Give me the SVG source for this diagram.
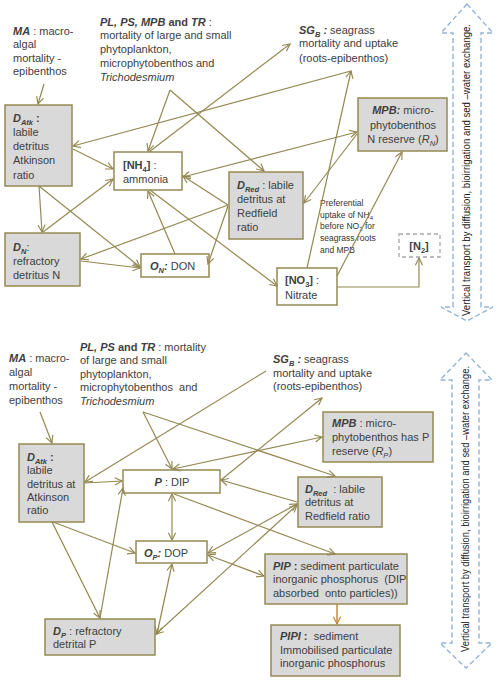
<svg xmlns="http://www.w3.org/2000/svg" width="500" height="681" viewBox="0 0 500 681">
<defs>
<style>
text{font-family:"Liberation Sans",Arial,sans-serif;font-size:11px;fill:#404040}
.bi{font-weight:bold;font-style:italic}
.bo{font-weight:bold}
.it{font-style:italic}
.sm{font-size:7.5px}
.box{stroke:#948a54;stroke-width:1.5}
.g{fill:#d9d9d9}
.w{fill:#ffffff}
.c{stroke:#938953;stroke-width:1.2;fill:none}
.pref{font-size:8.5px;fill:#333333}
.vt{font-size:10px;fill:#1a1a1a}
.va{fill:none;stroke:#95b3d7;stroke-width:1.4;stroke-dasharray:5 3}
</style>
<marker id="a" viewBox="0 0 10 10" refX="9" refY="5" markerWidth="9" markerHeight="9" markerUnits="userSpaceOnUse" orient="auto-start-reverse">
<path d="M1,1 L9,5 L1,9" fill="none" stroke="#938953" stroke-width="1.3"/>
</marker>
<marker id="ao" viewBox="0 0 10 10" refX="9" refY="5" markerWidth="9" markerHeight="9" markerUnits="userSpaceOnUse" orient="auto">
<path d="M1,1 L9,5 L1,9" fill="none" stroke="#c0862a" stroke-width="1.3"/>
</marker>
</defs>
<rect width="500" height="681" fill="#ffffff"/>

<!-- Top panel -->
<g id="top-MA">
<text x="13" y="35"><tspan class="bi">MA</tspan> : macro-</text>
<text x="13" y="48">algal</text>
<text x="13" y="62">mortality -</text>
<text x="13" y="75">epibenthos</text>
</g>
<g id="top-PL">
<text x="100" y="26"><tspan class="bi">PL, PS, MPB</tspan><tspan class="bo"> and </tspan><tspan class="bi">TR</tspan> :</text>
<text x="100" y="39">mortality of large and small</text>
<text x="100" y="53">phytoplankton,</text>
<text x="100" y="67">microphytobenthos and</text>
<text x="100" y="81" class="it">Trichodesmium</text>
</g>
<g id="top-SGB">
<text x="299" y="34"><tspan class="bi">SG</tspan><tspan class="bi sm" dy="2.5">B</tspan><tspan class="bi" dy="-2.5"> :</tspan> seagrass</text>
<text x="299" y="47">mortality and uptake</text>
<text x="299" y="62">(roots-epibenthos)</text>
</g>
<g id="top-DAtk">
<rect class="box g" x="5" y="105" width="67" height="81"/>
<text x="13" y="122"><tspan class="bi">D</tspan><tspan class="bi sm" dy="2.5">Atk</tspan><tspan class="bo" dy="-2.5"> :</tspan></text>
<text x="13" y="136">labile</text>
<text x="13" y="150">detritus</text>
<text x="13" y="164">Atkinson</text>
<text x="13" y="179">ratio</text>
</g>
<g id="top-NH4">
<rect class="box w" x="114" y="152" width="68" height="38"/>
<text x="123" y="169"><tspan class="bo">[NH</tspan><tspan class="bo sm" dy="2.5">4</tspan><tspan class="bo" dy="-2.5">]</tspan> :</text>
<text x="123" y="183">ammonia</text>
</g>
<g id="top-MPB">
<rect class="box g" x="358" y="98" width="89" height="53"/>
<text x="403" y="114" text-anchor="middle"><tspan class="bi">MPB:</tspan> micro-</text>
<text x="403" y="129" text-anchor="middle">phytobenthos</text>
<text x="403" y="143" text-anchor="middle">N reserve (<tspan class="it">R</tspan><tspan class="it sm" dy="2.5">N</tspan><tspan dy="-2.5">)</tspan></text>
</g>
<g id="top-DRed">
<rect class="box g" x="229" y="172" width="74" height="67"/>
<text x="237" y="189"><tspan class="bi">D</tspan><tspan class="bi sm" dy="2.5">Red</tspan><tspan dy="-2.5"> : labile</tspan></text>
<text x="237" y="203">detritus at</text>
<text x="237" y="217">Redfield</text>
<text x="237" y="231">ratio</text>
</g>
<g id="top-DN">
<rect class="box g" x="5" y="233" width="75" height="53"/>
<text x="13" y="251"><tspan class="bi">D</tspan><tspan class="bi sm" dy="2.5">N</tspan><tspan dy="-2.5">:</tspan></text>
<text x="13" y="265">refractory</text>
<text x="13" y="279">detritus N</text>
</g>
<g id="top-ON">
<rect class="box w" x="141" y="254" width="68" height="23"/>
<text x="150" y="270"><tspan class="bi">O</tspan><tspan class="bi sm" dy="2.5">N</tspan><tspan class="bi" dy="-2.5">:</tspan> DON</text>
</g>
<g id="top-NO3">
<rect class="box w" x="277" y="268" width="60" height="37"/>
<text x="285" y="284"><tspan class="bo">[NO</tspan><tspan class="bo sm" dy="2.5">3</tspan><tspan class="bo" dy="-2.5">]</tspan> :</text>
<text x="285" y="299">Nitrate</text>
</g>
<g id="top-N2">
<rect x="399" y="234" width="41" height="23" fill="#ffffff" stroke="#a6a6a6" stroke-width="1.3" stroke-dasharray="4 3"/>
<text x="419" y="250" text-anchor="middle"><tspan class="bo">[N</tspan><tspan class="bo sm" dy="2.5">2</tspan><tspan class="bo" dy="-2.5">]</tspan></text>
</g>
<g id="top-pref">
<text class="pref" x="320" y="206">Preferential</text>
<text class="pref" x="320" y="218">uptake of NH<tspan font-size="6" dy="2">4</tspan></text>
<text class="pref" x="320" y="229">before NO<tspan font-size="6" dy="2">3</tspan><tspan dy="-2"> for</tspan></text>
<text class="pref" x="320" y="241">seagrass roots</text>
<text class="pref" x="320" y="253">and MPB</text>
</g>
<g id="top-vertical">
<path class="va" d="M467,4 L493,33 L481,33 L481,307 L493,307 L467,321 L441,307 L453,307 L453,33 L441,33 Z"/>
<text class="vt" transform="translate(470,316) rotate(-90)" x="0" y="0" textLength="292" lengthAdjust="spacingAndGlyphs">Vertical transport by diffusion, bioirrigation and sed –water exchange.</text>
</g>

<g id="top-connectors">
<line class="c" x1="44" y1="84" x2="38" y2="104" marker-end="url(#a)"/>
<line class="c" x1="170" y1="90" x2="148" y2="151" marker-end="url(#a)"/>
<line class="c" x1="170" y1="90" x2="264" y2="171" marker-end="url(#a)"/>
<line class="c" x1="149" y1="152" x2="290" y2="44" marker-end="url(#a)"/>
<line class="c" x1="351" y1="71" x2="73" y2="146" marker-end="url(#a)"/>
<line class="c" x1="307" y1="268" x2="351" y2="71" marker-end="url(#a)"/>
<line class="c" x1="73" y1="149" x2="113" y2="169" marker-end="url(#a)"/>
<line class="c" x1="39" y1="186" x2="42" y2="232" marker-end="url(#a)"/>
<line class="c" x1="39" y1="186" x2="140" y2="267" marker-end="url(#a)"/>
<line class="c" x1="43" y1="232" x2="113" y2="179" marker-end="url(#a)"/>
<line class="c" x1="81" y1="261" x2="140" y2="268" marker-end="url(#a)"/>
<line class="c" x1="228" y1="205" x2="81" y2="259" marker-end="url(#a)"/>
<line class="c" x1="228" y1="205" x2="183" y2="176" marker-end="url(#a)"/>
<line class="c" x1="228" y1="206" x2="208" y2="264" marker-end="url(#a)"/>
<line class="c" x1="175" y1="254" x2="148" y2="191" marker-end="url(#a)"/>
<line class="c" x1="150" y1="190" x2="277" y2="286" marker-end="url(#a)"/>
<line class="c" x1="183" y1="177" x2="357" y2="132" marker-start="url(#a)" marker-end="url(#a)"/>
<line class="c" x1="357" y1="134" x2="304" y2="203" marker-end="url(#a)"/>
<line class="c" x1="337" y1="276" x2="402" y2="152" marker-end="url(#a)"/>
<polyline class="c" points="337,287 419,287 419,258" marker-end="url(#a)"/>
</g>

<!-- Lower panel -->
<g id="low-MA">
<text x="9" y="362"><tspan class="bi">MA</tspan> : macro-</text>
<text x="9" y="376">algal</text>
<text x="9" y="390">mortality -</text>
<text x="9" y="404">epibenthos</text>
</g>
<g id="low-PL">
<text x="80" y="351"><tspan class="bi">PL, PS</tspan><tspan class="bo"> and </tspan><tspan class="bi">TR</tspan> : mortality</text>
<text x="80" y="364">of large and small</text>
<text x="80" y="378">phytoplankton,</text>
<text x="80" y="391" xml:space="preserve">microphytobenthos  and</text>
<text x="80" y="405" class="it">Trichodesmium</text>
</g>
<g id="low-SGB">
<text x="273" y="363"><tspan class="bi">SG</tspan><tspan class="bi sm" dy="2.5">B</tspan><tspan class="bi" dy="-2.5"> :</tspan> seagrass</text>
<text x="273" y="377">mortality and uptake</text>
<text x="273" y="390">(roots-epibenthos)</text>
</g>
<g id="low-DAtk">
<rect class="box g" x="19" y="444" width="65" height="78"/>
<text x="27" y="461"><tspan class="bi">D</tspan><tspan class="bi sm" dy="2.5">Atk</tspan><tspan class="bo" dy="-2.5"> :</tspan></text>
<text x="27" y="474">labile</text>
<text x="27" y="488">detritus at</text>
<text x="27" y="501">Atkinson</text>
<text x="27" y="514">ratio</text>
</g>
<g id="low-DIP">
<rect class="box w" x="123" y="470" width="97" height="23"/>
<text x="172" y="486" text-anchor="middle"><tspan class="bi">P</tspan> : DIP</text>
</g>
<g id="low-MPB">
<rect class="box g" x="323" y="412" width="110" height="50"/>
<text x="332" y="427"><tspan class="bi">MPB</tspan> : micro-</text>
<text x="332" y="441">phytobenthos has P</text>
<text x="332" y="455">reserve (<tspan class="it">R</tspan><tspan class="it sm" dy="2.5">P</tspan><tspan dy="-2.5">)</tspan></text>
</g>
<g id="low-DRed">
<rect class="box g" x="298" y="477" width="84" height="50"/>
<text x="305" y="493" xml:space="preserve"><tspan class="bi">D</tspan><tspan class="bi sm" dy="2.5">Red</tspan><tspan dy="-2.5">  : labile</tspan></text>
<text x="305" y="506">detritus at</text>
<text x="305" y="520">Redfield ratio</text>
</g>
<g id="low-OP">
<rect class="box w" x="136" y="541" width="71" height="22"/>
<text x="144" y="557"><tspan class="bi">O</tspan><tspan class="bi sm" dy="2.5">P</tspan><tspan class="bi" dy="-2.5">:</tspan> DOP</text>
</g>
<g id="low-DP">
<rect class="box g" x="45" y="619" width="110" height="36"/>
<text x="53" y="635"><tspan class="bi">D</tspan><tspan class="bi sm" dy="2.5">P</tspan><tspan dy="-2.5"> : refractory</tspan></text>
<text x="53" y="648">detrital P</text>
</g>
<g id="low-PIP">
<rect class="box g" x="265" y="554" width="142" height="50"/>
<text x="273" y="570"><tspan class="bi">PIP</tspan><tspan class="bo"> :</tspan> sediment particulate</text>
<text x="273" y="583" xml:space="preserve">inorganic phosphorus  (DIP</text>
<text x="273" y="597" xml:space="preserve">absorbed  onto particles))</text>
</g>
<g id="low-PIPI">
<rect class="box g" x="271" y="625" width="129" height="51"/>
<text x="280" y="640" xml:space="preserve"><tspan class="bi">PIPI</tspan><tspan class="bo"> :</tspan>  sediment</text>
<text x="280" y="654">Immobilised particulate</text>
<text x="280" y="667">inorganic phosphorus</text>
</g>
<g id="low-vertical">
<path class="va" d="M466,353 L492,380 L479,380 L479,643 L492,643 L466,668 L440,643 L452,643 L452,380 L440,380 Z"/>
<text class="vt" transform="translate(469,652) rotate(-90)" x="0" y="0" textLength="286" lengthAdjust="spacingAndGlyphs">Vertical transport by diffusion, bioirrigation and sed –water exchange.</text>
</g>

<g id="low-connectors">
<line class="c" x1="40" y1="412" x2="52" y2="443" marker-end="url(#a)"/>
<line class="c" x1="143" y1="412" x2="172" y2="469" marker-end="url(#a)"/>
<line class="c" x1="143" y1="412" x2="335" y2="476" marker-end="url(#a)"/>
<line class="c" x1="266" y1="371" x2="85" y2="482" marker-end="url(#a)"/>
<line class="c" x1="85" y1="483" x2="122" y2="481" marker-end="url(#a)"/>
<line class="c" x1="53" y1="522" x2="135" y2="553" marker-end="url(#a)"/>
<line class="c" x1="52" y1="522" x2="100" y2="618" marker-end="url(#a)"/>
<line class="c" x1="100" y1="618" x2="123" y2="488" marker-end="url(#a)"/>
<line class="c" x1="172" y1="494" x2="172" y2="540" marker-start="url(#a)" marker-end="url(#a)"/>
<line class="c" x1="172" y1="564" x2="157" y2="634" marker-start="url(#a)" marker-end="url(#a)"/>
<line class="c" x1="221" y1="480" x2="322" y2="398" marker-end="url(#a)"/>
<line class="c" x1="173" y1="469" x2="322" y2="437" marker-start="url(#a)" marker-end="url(#a)"/>
<line class="c" x1="297" y1="502" x2="221" y2="480" marker-end="url(#a)"/>
<line class="c" x1="174" y1="494" x2="335" y2="554" marker-end="url(#a)"/>
<line class="c" x1="208" y1="553" x2="297" y2="504" marker-start="url(#a)" marker-end="url(#a)"/>
<line class="c" x1="208" y1="555" x2="264" y2="576" marker-start="url(#a)" marker-end="url(#a)"/>
<line class="c" x1="156" y1="634" x2="297" y2="505" marker-start="url(#a)" marker-end="url(#a)"/>
<line x1="337" y1="604" x2="337" y2="624" stroke="#c0862a" stroke-width="1.4" marker-end="url(#ao)"/>
</g>
</svg>
